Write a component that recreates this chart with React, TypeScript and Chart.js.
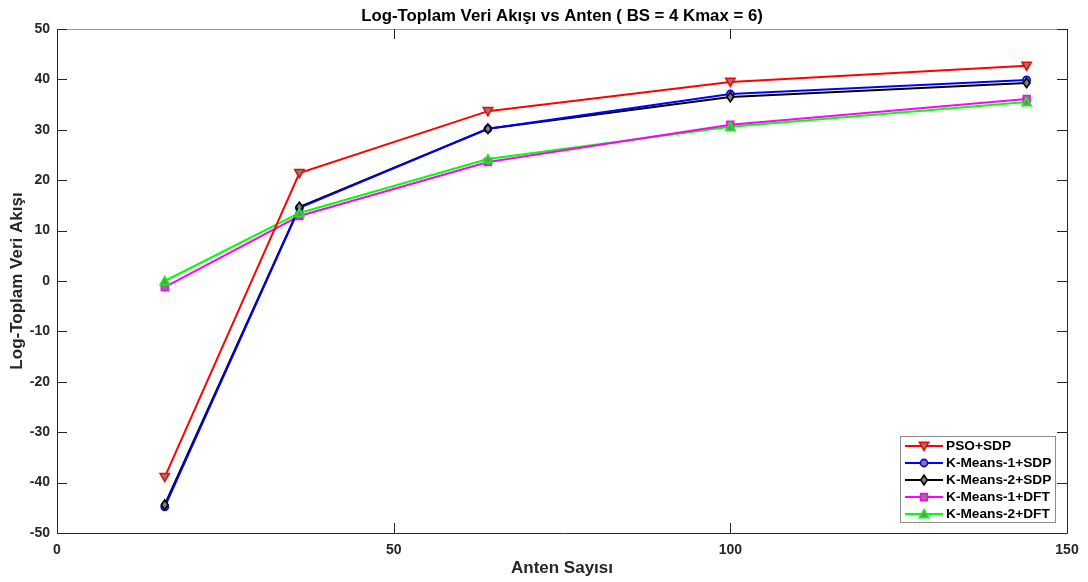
import React, { useEffect, useRef } from 'react';
import { Chart, registerables } from 'chart.js';
Chart.register(...registerables);

const antennas = [16, 36, 64, 100, 144];
const psoSdp = [-38.9, 21.4, 33.7, 39.5, 42.7];
const km1Sdp = [-44.8, 14.5, 30.2, 37.1, 39.9];
const km2Sdp = [-44.4, 14.7, 30.2, 36.5, 39.3];
const km1Dft = [-1.2, 12.9, 23.6, 31.0, 36.1];
const km2Dft = [0.0, 13.5, 24.2, 30.6, 35.5];
const seriesNames = ['PSO+SDP', 'K-Means-1+SDP', 'K-Means-2+SDP', 'K-Means-1+DFT', 'K-Means-2+DFT'];
const seriesColors = ['#ff0000', '#0000ff', '#000000', '#ff00ff', '#00ff00'];
const seriesMarkers = ['triangleDown', 'circle', 'diamond', 'square', 'triangleUp'];
const xTicks = [0, 50, 100, 150];
const yTicks = [-50, -40, -30, -20, -10, 0, 10, 20, 30, 40, 50];
const titleText = 'Log-Toplam Veri Akışı vs Anten ( BS = 4 Kmax = 6)';
const xTitle = 'Anten Sayısı';
const yTitle = 'Log-Toplam Veri Akışı';

const FONT = '"Liberation Sans", Arial, Helvetica, sans-serif';
const MARKER_FILL = '#808080';

function drawMarker(ctx: CanvasRenderingContext2D, kind: string, x: number, y: number, color: string) {
  ctx.save();
  ctx.fillStyle = MARKER_FILL;
  ctx.strokeStyle = color;
  ctx.lineWidth = 1.6;
  ctx.beginPath();
  if (kind === 'circle') {
    ctx.arc(x, y, 3.6, 0, Math.PI * 2);
  } else if (kind === 'square') {
    ctx.rect(x - 3.4, y - 3.4, 6.8, 6.8);
  } else if (kind === 'diamond') {
    ctx.moveTo(x, y - 4.8);
    ctx.lineTo(x + 3.4, y);
    ctx.lineTo(x, y + 4.8);
    ctx.lineTo(x - 3.4, y);
    ctx.closePath();
  } else if (kind === 'triangleDown') {
    ctx.moveTo(x - 4.6, y - 3.6);
    ctx.lineTo(x + 4.6, y - 3.6);
    ctx.lineTo(x, y + 4.4);
    ctx.closePath();
  } else {
    ctx.moveTo(x - 4.6, y + 3.6);
    ctx.lineTo(x + 4.6, y + 3.6);
    ctx.lineTo(x, y - 4.4);
    ctx.closePath();
  }
  ctx.fill();
  ctx.stroke();
  ctx.restore();
}

const decorPlugin = {
  id: 'decor',
  afterDatasetsDraw(chart: any) {
    const ctx: CanvasRenderingContext2D = chart.ctx;
    const xs = chart.scales.x;
    const ys = chart.scales.y;
    const { left, right, top, bottom } = chart.chartArea;
    chart.data.datasets.forEach((ds: any, i: number) => {
      const meta = chart.getDatasetMeta(i);
      meta.data.forEach((pt: any) => drawMarker(ctx, seriesMarkers[i], pt.x, pt.y, seriesColors[i]));
    });
    ctx.save();
    ctx.lineWidth = 1;
    ctx.strokeStyle = '#262626';
    ctx.beginPath();
    ctx.moveTo(left + 0.5, top);
    ctx.lineTo(left + 0.5, bottom + 0.5);
    ctx.lineTo(right + 0.5, bottom + 0.5);
    ctx.lineTo(right + 0.5, top);
    ctx.stroke();
    ctx.strokeStyle = '#9a9a9a';
    ctx.beginPath();
    ctx.moveTo(left, top + 0.5);
    ctx.lineTo(right + 1, top + 0.5);
    ctx.stroke();
    ctx.strokeStyle = '#262626';
    ctx.beginPath();
    const TL = 10;
    yTicks.forEach((v) => {
      const py = Math.round(ys.getPixelForValue(v)) + 0.5;
      ctx.moveTo(left, py);
      ctx.lineTo(left + TL, py);
      ctx.moveTo(right, py);
      ctx.lineTo(right - TL, py);
    });
    xTicks.forEach((v) => {
      const px = Math.round(xs.getPixelForValue(v)) + 0.5;
      ctx.moveTo(px, bottom);
      ctx.lineTo(px, bottom - TL);
      ctx.moveTo(px, top);
      ctx.lineTo(px, top + TL);
    });
    ctx.stroke();
    ctx.fillStyle = '#000';
    ctx.font = 'bold 16.8px ' + FONT;
    ctx.textAlign = 'center';
    ctx.textBaseline = 'middle';
    ctx.fillText(titleText, (left + right) / 2, 16);
    const bx = 900, by = 436, bw = 155, bh = 86;
    ctx.fillStyle = '#ffffff';
    ctx.fillRect(bx, by, bw, bh);
    ctx.strokeStyle = '#8c8c8c';
    ctx.lineWidth = 1;
    ctx.strokeRect(bx + 0.5, by + 0.5, bw, bh);
    ctx.font = 'bold 13.7px ' + FONT;
    ctx.textAlign = 'left';
    ctx.textBaseline = 'middle';
    seriesNames.forEach((name, i) => {
      const ly = by + 10 + i * 17;
      ctx.strokeStyle = seriesColors[i];
      ctx.lineWidth = 2;
      ctx.beginPath();
      ctx.moveTo(905, ly);
      ctx.lineTo(943, ly);
      ctx.stroke();
      drawMarker(ctx, seriesMarkers[i], 924, ly, seriesColors[i]);
      ctx.fillStyle = '#000';
      ctx.fillText(name, 946, ly + 0.5);
    });
    ctx.restore();
  },
};

export default function App() {
  const ref = useRef<HTMLCanvasElement>(null);
  useEffect(() => {
    if (!ref.current) return;
    const series = [psoSdp, km1Sdp, km2Sdp, km1Dft, km2Dft];
    const chart = new Chart(ref.current, {
      type: 'line',
      data: {
        datasets: series.map((vals, i) => ({
          label: seriesNames[i],
          data: antennas.map((a, j) => ({ x: a, y: vals[j] })),
          borderColor: seriesColors[i],
          backgroundColor: seriesColors[i],
          borderWidth: 2,
          pointRadius: 0,
          pointHoverRadius: 0,
          tension: 0,
          fill: false,
          clip: false as any,
        })),
      },
      options: {
        animation: false,
        responsive: false,
        maintainAspectRatio: false,
        events: [],
        layout: { padding: { top: 29, right: 21, left: 0, bottom: 0 } },
        plugins: {
          legend: { display: false },
          title: { display: false },
          tooltip: { enabled: false },
        },
        scales: {
          x: {
            type: 'linear',
            min: 0,
            max: 150,
            afterBuildTicks: (s: any) => { s.ticks = xTicks.map((v) => ({ value: v })); },
            afterFit: (s: any) => { s.height = 49; },
            grid: { display: false, drawTicks: false },
            border: { display: false },
            ticks: {
              padding: 9,
              color: '#262626',
              font: { family: FONT, size: 14, weight: 'bold' },
              maxRotation: 0,
            },
            title: {
              display: true,
              text: xTitle,
              color: '#262626',
              font: { family: FONT, size: 17, weight: 'bold' },
              padding: { top: 0, bottom: 3 },
            },
          },
          y: {
            type: 'linear',
            min: -50,
            max: 50,
            afterBuildTicks: (s: any) => { s.ticks = yTicks.map((v) => ({ value: v })); },
            afterFit: (s: any) => { s.width = 57; },
            grid: { display: false, drawTicks: false },
            border: { display: false },
            ticks: {
              padding: 7,
              color: '#262626',
              font: { family: FONT, size: 14, weight: 'bold' },
            },
            title: {
              display: true,
              text: yTitle,
              color: '#262626',
              font: { family: FONT, size: 17, weight: 'bold' },
              padding: { top: 7, bottom: 0 },
            },
          },
        },
      },
      plugins: [decorPlugin],
    } as any);
    return () => chart.destroy();
  }, []);
  return (
    <div style={{ position: 'absolute', left: 0, top: 0, width: 1088, height: 582, background: '#fff' }}>
      <canvas ref={ref} width={1088} height={582} style={{ width: 1088, height: 582 }} />
    </div>
  );
}
